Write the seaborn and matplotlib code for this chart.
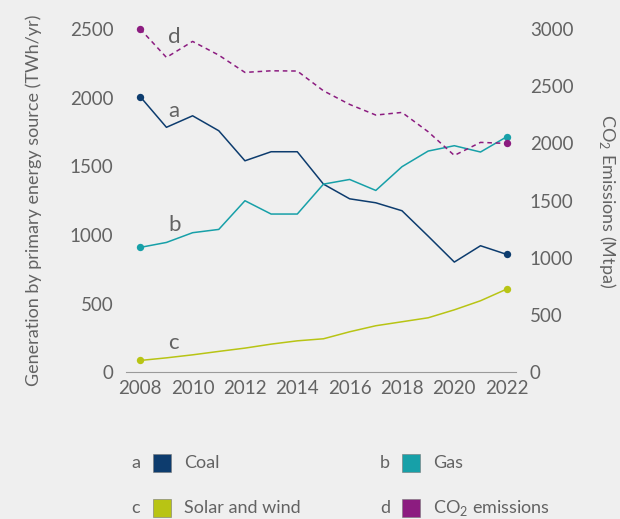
import pandas as pd
import seaborn as sns
import matplotlib.pyplot as plt
from matplotlib.patches import Rectangle

# Datos
years = list(range(2008, 2023))
coal = [2007, 1784, 1868, 1759, 1540, 1606, 1606, 1370, 1263, 1234, 1176, 991, 802, 921, 858]
gas = [909, 945, 1016, 1040, 1249, 1152, 1152, 1370, 1404, 1324, 1497, 1611, 1650, 1604, 1715]
solar_wind = [85, 104, 126, 151, 175, 204, 228, 243, 294, 338, 367, 396, 454, 520, 605]
co2 = [3000, 2752, 2892, 2772, 2621, 2635, 2633, 2460, 2341, 2248, 2271, 2102, 1895, 2009, 2000]

series_names = ['Coal', 'Gas', 'Solar and wind']
colors = {'Coal': '#0d3c6e', 'Gas': '#17a0a8', 'Solar and wind': '#b8c414'}
co2_color = '#8c1c80'
bg = '#efefef'
text_color = '#636363'

sns.set_theme(style='white')
plt.rcParams['font.family'] = ['Lato', 'DejaVu Sans']
plt.rcParams['mathtext.fontset'] = 'custom'
plt.rcParams['mathtext.rm'] = 'Lato'

df = pd.DataFrame({'Year': years * 3,
                   'Value': coal + gas + solar_wind,
                   'Source': [n for n in series_names for _ in years]})

fig = plt.figure(figsize=(6.2, 5.19), dpi=100, facecolor=bg)
ax = fig.add_axes([0.203, 0.283, 0.629, 0.661])
ax.set_facecolor(bg)

sns.lineplot(data=df, x='Year', y='Value', hue='Source', palette=colors,
             linewidth=1.1, ax=ax, legend=False)

# Puntos al inicio y al final de cada serie
for name, vals in zip(series_names, [coal, gas, solar_wind]):
    ax.scatter([years[0], years[-1]], [vals[0], vals[-1]], s=28,
               color=colors[name], zorder=5, clip_on=False, linewidths=0)

ax2 = ax.twinx()
sns.lineplot(x=years, y=co2, color=co2_color, linewidth=1.1, ax=ax2,
             linestyle=(0, (3, 2.5)))
ax2.scatter([years[0], years[-1]], [co2[0], co2[-1]], s=28, color=co2_color,
            zorder=5, clip_on=False, linewidths=0)

ax.set_xlim(2007.45, 2022.35)
ax.set_ylim(0, 2500)
ax2.set_ylim(0, 3000)
ax.set_xticks(range(2008, 2023, 2))
ax.set_yticks(range(0, 2501, 500))
ax2.set_yticks(range(0, 3001, 500))

for a in (ax, ax2):
    for s in a.spines.values():
        s.set_visible(False)
    a.tick_params(length=0, labelsize=13.5, colors=text_color)
ax.spines['bottom'].set_visible(True)
ax.spines['bottom'].set_color('#9a9a9a')
ax.spines['bottom'].set_linewidth(0.8)
ax.tick_params(axis='y', pad=9)
ax.tick_params(axis='x', pad=6)
ax2.tick_params(axis='y', pad=10)

ax.set_xlabel('')
ax.set_ylabel('Generation by primary energy source (TWh/yr)', fontsize=13,
              color=text_color, labelpad=20)
ax2.set_ylabel(r'CO$_\mathregular{2}$ Emissions (Mtpa)', fontsize=13,
               color=text_color, rotation=270, labelpad=32)

# Letras de cada serie
letter_pos = [(2009.07, 1902), (2009.07, 1071), (2009.07, 211), (2009.07, 2442)]
for letter, (x, y) in zip(['a', 'b', 'c', 'd'], letter_pos):
    ax.text(x, y, letter, fontsize=16, color=text_color, ha='left', va='center')

# Leyenda manual
legend_items = [('a', colors['Coal'], 'Coal', 136, 463),
                ('b', colors['Gas'], 'Gas', 385, 463),
                ('c', colors['Solar and wind'], 'Solar and wind', 136, 508),
                ('d', co2_color, r'CO$_\mathregular{2}$ emissions', 385, 508)]
W, H = 620, 519
for letter, col, label, px, py in legend_items:
    fig.text(px / W, 1 - py / H, letter, fontsize=13, color=text_color,
             ha='center', va='center')
    fig.patches.append(Rectangle(((px + 17) / W, 1 - (py + 9) / H), 18 / W, 18 / H,
                                 transform=fig.transFigure, facecolor=col,
                                 edgecolor='#777777', linewidth=0.4))
    fig.text((px + 48) / W, 1 - py / H, label, fontsize=13, color=text_color,
             ha='left', va='center')

plt.savefig('out.png', dpi=100, facecolor=bg)
